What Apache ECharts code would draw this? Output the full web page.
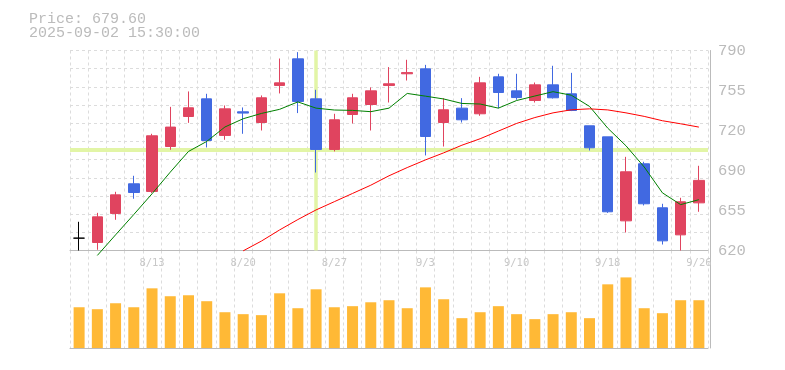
<!DOCTYPE html>
<html><head><meta charset="utf-8">
<script src="https://cdn.jsdelivr.net/npm/echarts@6/dist/echarts.min.js"></script>
<style>html,body{margin:0;padding:0;background:#fff}#c{width:785px;height:370px}</style>
</head><body><div id="c"></div>
<script>
// ---- data ----
const dates = ['8/6','8/7','8/8','8/12','8/13','8/14','8/15','8/18','8/19','8/20','8/21','8/22','8/25','8/26','8/27','8/28','8/29','9/1','9/2','9/3','9/4','9/5','9/8','9/9','9/10','9/11','9/12','9/16','9/17','9/18','9/19','9/22','9/24','9/25','9/26'];
const openP  = [630.5,626.8,651.5,676.7,670.2,708.4,733.9,748.9,717.8,737.9,728.8,760.3,782.9,748.9,705.9,735.6,744.1,760.3,770.2,774.4,728.8,741.0,736.2,767.6,755.7,747.5,760.8,753.2,726.0,716.6,645.2,693.7,656.3,633.3,660.5];
const highP  = [644.4,652.0,669.9,683.5,719.2,742.1,755.2,753.2,743.3,741.6,751.8,783.2,788.6,756.6,736.2,753.2,758.6,775.9,782.1,777.8,749.5,749.5,767.6,770.2,770.2,762.8,777.0,771.0,726.0,716.6,699.6,695.4,659.7,664.8,692.0];
const lowP   = [620.0,620.6,646.1,664.0,668.8,705.6,728.5,707.6,714.1,719.2,722.0,753.5,736.8,686.3,704.2,728.0,722.0,745.8,764.5,700.8,708.4,728.8,734.5,741.0,748.1,745.8,749.2,738.5,705.0,652.0,635.3,658.3,625.1,620.0,652.9];
const closeP = [630.5,648.6,667.3,669.3,717.5,724.9,741.3,713.5,740.4,736.8,749.8,762.5,746.7,705.9,731.1,749.8,755.7,761.7,771.2,716.9,739.6,731.1,762.5,754.3,750.0,760.8,749.8,739.0,707.3,652.9,686.9,659.7,628.2,661.4,679.6];
const ma5  = [null,615.8,633.3,650.6,668.2,686.6,704.2,712.7,725.0,732.0,736.5,740.0,746.3,741.0,739.4,739.1,738.0,741.0,753.5,751.2,748.8,745.0,744.5,741.0,747.5,751.3,755.0,752.0,742.5,724.0,709.0,691.0,669.0,659.0,663.2];
const ma25 = [null,null,null,null,null,null,null,null,null,619.7,628.0,637.5,646.3,654.5,661.5,668.5,675.5,683.5,690.5,697.0,703.0,709.5,715.0,721.5,728.0,733.0,737.0,739.6,740.4,739.5,737.0,734.0,730.3,727.7,724.9];
const volume = [418,398,459,418,612,531,541,480,367,347,337,561,408,602,418,429,469,490,408,622,500,306,367,429,347,296,347,367,306,653,724,408,357,490,490];
const yTickLabels = ['620','655','690','720','755','790'];
const xTickLabels = ['8/13','8/20','8/27','9/3','9/10','9/18','9/26'];
const cursorDate = '8/26';
const cursorPrice = 705.9;
const titleLines = ['Price: 679.60', '2025-09-02 15:30:00'];

// ---- chart ----
const chart = echarts.init(document.getElementById('c'));
const UP = '#E0445F', DOWN = '#4169E1', GRIDC = '#dcdcdc', AXISC = '#bbbbbb';
const ohlc = dates.map((d, i) => [openP[i], closeP[i], lowP[i], highP[i]]);
const candleData = ohlc.map((v, i) => v[0] === v[1]
  ? { value: v, itemStyle: { color: '#000', color0: '#000', borderColor: '#000', borderColor0: '#000' } }
  : v);
const dash = [3, 3];

chart.setOption({
  animation: false,
  backgroundColor: '#fff',
  title: {
    text: titleLines.join('\n'), left: 24, top: 7,
    textStyle: { fontFamily: 'Liberation Mono', fontSize: 15, fontWeight: 'normal', color: '#bbbbbb', lineHeight: 14 }
  },
  grid: [
    { left: 70, right: 77, top: 50.5, height: 200 },
    { left: 70, right: 77, top: 250.5, height: 97.5 }
  ],
  xAxis: [
    { gridIndex: 0, type: 'category', data: dates, boundaryGap: true,
      axisLine: { lineStyle: { color: AXISC } }, axisTick: { show: false },
      axisLabel: { interval: (i) => xTickLabels.includes(dates[i]), color: '#c8c8c8', fontFamily: 'DejaVu Sans Mono', fontSize: 10.5, margin: 7 },
      splitLine: { show: true, interval: 0, lineStyle: { color: GRIDC, type: dash } } },
    { gridIndex: 1, type: 'category', data: dates, boundaryGap: true, offset: 2,
      axisLine: { lineStyle: { color: AXISC } }, axisTick: { show: false }, axisLabel: { show: false },
      splitLine: { show: true, interval: 0, lineStyle: { color: GRIDC, type: dash } } }
  ],
  yAxis: [
    { gridIndex: 0, type: 'value', min: 620, max: 790, position: 'right', scale: true,
      axisLine: { show: false }, axisTick: { show: false }, axisLabel: { show: false }, splitLine: { show: false } },
    { gridIndex: 0, type: 'value', min: 0, max: 11, interval: 1, position: 'right',
      axisLine: { show: false }, axisTick: { show: false }, axisLabel: { show: false },
      splitLine: { show: true, lineStyle: { color: GRIDC, type: dash } } },
    { gridIndex: 0, type: 'value', min: 0, max: yTickLabels.length - 1, interval: 1, position: 'right', offset: 2,
      axisLine: { show: true, lineStyle: { color: AXISC } }, axisTick: { show: false },
      axisLabel: { formatter: (v) => yTickLabels[v] || '', color: '#bbbbbb', fontFamily: 'Liberation Mono', fontSize: 15.5, margin: 8 },
      splitLine: { show: false } },
    { gridIndex: 1, type: 'value', min: 0, max: 1000, position: 'right', offset: 2,
      axisLine: { show: true, lineStyle: { color: AXISC } }, axisTick: { show: false }, axisLabel: { show: false },
      splitLine: { show: false } }
  ],
  series: [
    { name: 'cursor', type: 'line', xAxisIndex: 0, yAxisIndex: 0, data: [], z: 1,
      markLine: { silent: true, symbol: 'none', z: 1, label: { show: false },
        lineStyle: { color: '#E2F5A6', type: 'solid', width: 4 },
        data: [ { xAxis: cursorDate, lineStyle: { width: 3.5 } }, { yAxis: cursorPrice } ] } },
    { name: 'price', type: 'candlestick', xAxisIndex: 0, yAxisIndex: 0, data: candleData, barWidth: 11, z: 3,
      itemStyle: { color: UP, color0: DOWN, borderColor: UP, borderColor0: DOWN, borderWidth: 1 } },
    { name: 'MA5', type: 'line', xAxisIndex: 0, yAxisIndex: 0, data: ma5, showSymbol: false, clip: false, z: 4,
      lineStyle: { color: '#008000', width: 1 } },
    { name: 'MA25', type: 'line', xAxisIndex: 0, yAxisIndex: 0, data: ma25, showSymbol: false, clip: false, z: 4,
      lineStyle: { color: '#ff0000', width: 1 } },
    { name: 'volume', type: 'bar', xAxisIndex: 1, yAxisIndex: 3, data: volume, barWidth: 11,
      itemStyle: { color: '#FFB936' } }
  ]
});
</script>
</body></html>
